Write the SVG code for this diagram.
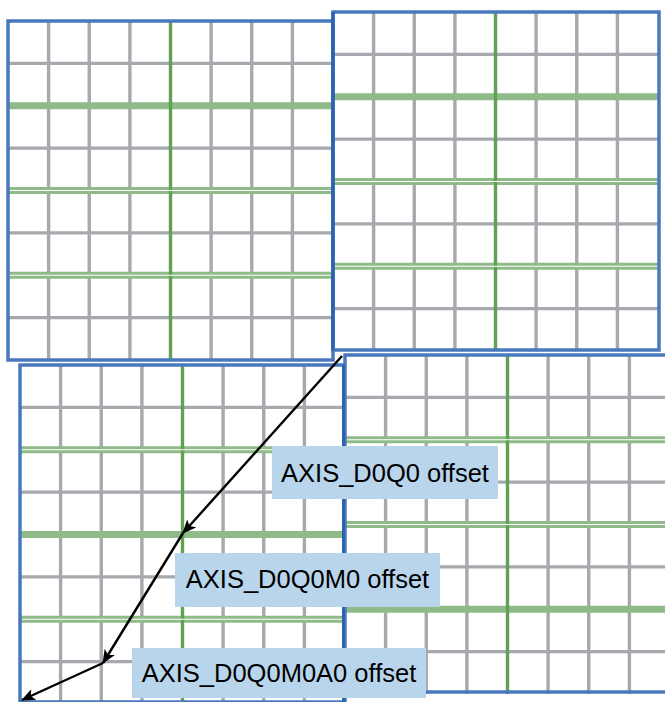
<svg xmlns="http://www.w3.org/2000/svg" xmlns:xlink="http://www.w3.org/1999/xlink" width="665" height="702" viewBox="0 0 665 702">
<style>
.gray{stroke:#a6a9ae;stroke-width:3.4;fill:none}
.gv{stroke:#62a056;stroke-width:3.4;fill:none}
.gh{stroke:#8fbb88;stroke-width:7;fill:none}
.sep{stroke:#ffffff;stroke-width:1.2;fill:none}
.border{stroke:#4a78be;stroke-width:3.5;fill:none}
.bg{fill:#ffffff}
.lbl{fill:#b9d5ec}
.txt{font-family:"Liberation Sans",Arial,sans-serif;font-size:25.5px;fill:#000000;text-anchor:middle}
.conn{stroke:#000000;stroke-width:2.4;fill:none}
</style>
<defs>
<g id="grid">
<rect class="bg" x="0" y="0" width="325" height="339"/>
<path class="gray" d="M40.6,0V339M81.25,0V339M121.9,0V339M203.1,0V339M243.75,0V339M284.4,0V339"/>
<path class="gray" d="M0,42.4H325M0,127.1H325M0,211.9H325M0,296.6H325"/>
<path class="gh" d="M0,84.75H325M0,169.5H325M0,254.25H325"/>
<path class="gv" d="M162.5,0V339"/>
</g>
<marker id="ah" markerWidth="14" markerHeight="12" refX="13" refY="6" orient="auto" markerUnits="userSpaceOnUse">
<path d="M0,0 L14,6 L0,12 L3.5,6 z" fill="#000000"/>
</marker>
</defs>
<g id="blockA" transform="translate(8,21)">
<use xlink:href="#grid"/>
<path class="sep" d="M0,169.5H325M0,254.25H325"/>
<rect class="border" x="0" y="0" width="325" height="339"/>
</g>
<g id="blockB" transform="translate(333,12)">
<use xlink:href="#grid"/>
<path class="sep" d="M0,169.5H325M0,254.25H325"/>
<rect class="border" x="0" y="0" width="326" height="338"/>
<path d="M0,0V338" stroke="#2a63b3" stroke-width="3.5"/>
</g>
<g id="blockC" transform="translate(20,365)">
<use xlink:href="#grid"/>
<path class="sep" d="M0,84.75H325M0,254.25H325"/>
<rect class="border" x="0" y="0" width="325" height="337"/>
</g>
<g id="blockD" transform="translate(345,355)">
<use xlink:href="#grid"/>
<path class="sep" d="M0,84.75H325M0,169.5H325"/>
<rect class="border" x="0" y="0" width="325" height="337"/>
<path d="M-1.5,10V350" stroke="#2a63b3" stroke-width="3"/>
</g>
<g id="label1">
<rect class="lbl" x="272" y="446" width="226" height="53"/>
<text class="txt" x="385" y="482">AXIS_D0Q0 offset</text>
</g>
<g id="label2">
<rect class="lbl" x="175" y="553" width="265" height="54"/>
<text class="txt" x="307.5" y="588">AXIS_D0Q0M0 offset</text>
</g>
<g id="label3">
<rect class="lbl" x="132" y="648" width="294" height="50"/>
<text class="txt" x="279" y="682">AXIS_D0Q0M0A0 offset</text>
</g>
<g id="connectors">
<path class="conn" d="M342,356 L183,533" marker-end="url(#ah)"/>
<path class="conn" d="M183,533 L103,663" marker-end="url(#ah)"/>
<path class="conn" d="M103,663 L22,700" marker-end="url(#ah)"/>
</g>
</svg>
